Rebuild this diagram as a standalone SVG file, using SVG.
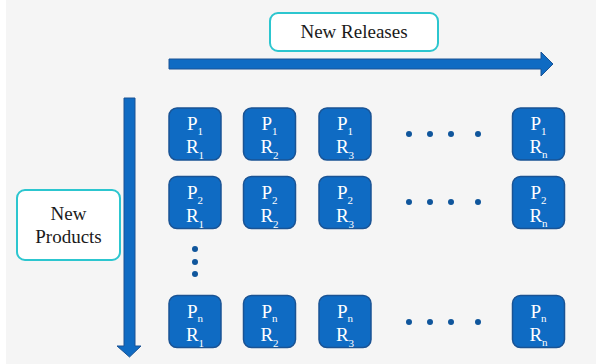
<svg xmlns="http://www.w3.org/2000/svg" width="602" height="364" viewBox="0 0 602 364">
  <style>
    .bg { fill: #f5f5f5; }
    .label-box { fill: #ffffff; stroke: #2cc6cf; stroke-width: 2; }
    .label { font-family: "Liberation Serif", "DejaVu Serif", serif; font-size: 19px; fill: #1a1a1a; text-anchor: middle; }
    .tile { fill: #0f6bc3; stroke: #1a5394; stroke-width: 1.5; }
    .node text { font-family: "Liberation Serif", "DejaVu Serif", serif; font-size: 19px; fill: #ffffff; text-anchor: middle; }
    .sub { font-size: 11px; }
    .arrow { fill: #0f6bc3; stroke: #1a5394; stroke-width: 1; }
    .dot { fill: #10569c; }
  </style>

  <rect class="bg" x="6" y="0" width="590" height="364"/>

  <!-- axes -->
  <g id="connectors">
    <path class="arrow" d="M169,59 H541 V52 L553,64 L541,76 V69 H169 Z"/>
    <path class="arrow" d="M124,98 H135 V346 H141 L129.5,357 L117,346 H124 Z"/>
  </g>

  <!-- axis labels -->
  <g id="new-releases">
    <rect class="label-box" x="270" y="13" width="168" height="38" rx="8" ry="8"/>
    <text class="label" x="354" y="38">New Releases</text>
  </g>
  <g id="new-products">
    <rect class="label-box" x="17" y="190" width="103" height="70" rx="8" ry="8"/>
    <text class="label" x="68.5" y="220">New</text>
    <text class="label" x="68.5" y="243">Products</text>
  </g>

  <!-- row 1 -->
  <g id="p1r1" class="node" transform="translate(195,134)"><rect class="tile" x="-26" y="-26" width="52" height="52" rx="8"/><text y="-4">P<tspan class="sub" dy="5">1</tspan></text><text y="19">R<tspan class="sub" dy="6">1</tspan></text></g>
  <g id="p1r2" class="node" transform="translate(269.5,134)"><rect class="tile" x="-26" y="-26" width="52" height="52" rx="8"/><text y="-4">P<tspan class="sub" dy="5">1</tspan></text><text y="19">R<tspan class="sub" dy="6">2</tspan></text></g>
  <g id="p1r3" class="node" transform="translate(345,134)"><rect class="tile" x="-26" y="-26" width="52" height="52" rx="8"/><text y="-4">P<tspan class="sub" dy="5">1</tspan></text><text y="19">R<tspan class="sub" dy="6">3</tspan></text></g>
  <g id="p1rn" class="node" transform="translate(538.5,134)"><rect class="tile" x="-26" y="-26" width="52" height="52" rx="8"/><text y="-4">P<tspan class="sub" dy="5">1</tspan></text><text y="19">R<tspan class="sub" dy="5">n</tspan></text></g>

  <!-- row 2 -->
  <g id="p2r1" class="node" transform="translate(195,202.5)"><rect class="tile" x="-26" y="-26" width="52" height="52" rx="8"/><text y="-4">P<tspan class="sub" dy="5">2</tspan></text><text y="19">R<tspan class="sub" dy="6">1</tspan></text></g>
  <g id="p2r2" class="node" transform="translate(269.5,202.5)"><rect class="tile" x="-26" y="-26" width="52" height="52" rx="8"/><text y="-4">P<tspan class="sub" dy="5">2</tspan></text><text y="19">R<tspan class="sub" dy="6">2</tspan></text></g>
  <g id="p2r3" class="node" transform="translate(345,202.5)"><rect class="tile" x="-26" y="-26" width="52" height="52" rx="8"/><text y="-4">P<tspan class="sub" dy="5">2</tspan></text><text y="19">R<tspan class="sub" dy="6">3</tspan></text></g>
  <g id="p2rn" class="node" transform="translate(538.5,202.5)"><rect class="tile" x="-26" y="-26" width="52" height="52" rx="8"/><text y="-4">P<tspan class="sub" dy="5">2</tspan></text><text y="19">R<tspan class="sub" dy="5">n</tspan></text></g>

  <!-- row n -->
  <g id="pnr1" class="node" transform="translate(195,321.5)"><rect class="tile" x="-26" y="-26" width="52" height="52" rx="8"/><text y="-4">P<tspan class="sub" dy="4">n</tspan></text><text y="19">R<tspan class="sub" dy="6">1</tspan></text></g>
  <g id="pnr2" class="node" transform="translate(269.5,321.5)"><rect class="tile" x="-26" y="-26" width="52" height="52" rx="8"/><text y="-4">P<tspan class="sub" dy="4">n</tspan></text><text y="19">R<tspan class="sub" dy="6">2</tspan></text></g>
  <g id="pnr3" class="node" transform="translate(345,321.5)"><rect class="tile" x="-26" y="-26" width="52" height="52" rx="8"/><text y="-4">P<tspan class="sub" dy="4">n</tspan></text><text y="19">R<tspan class="sub" dy="6">3</tspan></text></g>
  <g id="pnrn" class="node" transform="translate(538.5,321.5)"><rect class="tile" x="-26" y="-26" width="52" height="52" rx="8"/><text y="-4">P<tspan class="sub" dy="4">n</tspan></text><text y="19">R<tspan class="sub" dy="5">n</tspan></text></g>

  <!-- ellipses -->
  <g id="ellipsis-row1">
    <circle class="dot" cx="409" cy="134" r="3"/><circle class="dot" cx="430" cy="134" r="3"/><circle class="dot" cx="451" cy="134" r="3"/><circle class="dot" cx="478" cy="134" r="3"/>
  </g>
  <g id="ellipsis-row2">
    <circle class="dot" cx="409" cy="202" r="3"/><circle class="dot" cx="430" cy="202" r="3"/><circle class="dot" cx="451" cy="202" r="3"/><circle class="dot" cx="478" cy="202" r="3"/>
  </g>
  <g id="ellipsis-rown">
    <circle class="dot" cx="409" cy="322" r="3"/><circle class="dot" cx="430" cy="322" r="3"/><circle class="dot" cx="451" cy="322" r="3"/><circle class="dot" cx="478" cy="322" r="3"/>
  </g>
  <g id="ellipsis-col">
    <circle class="dot" cx="195" cy="249" r="3"/><circle class="dot" cx="195" cy="262" r="3"/><circle class="dot" cx="195" cy="274" r="3"/>
  </g>
</svg>
